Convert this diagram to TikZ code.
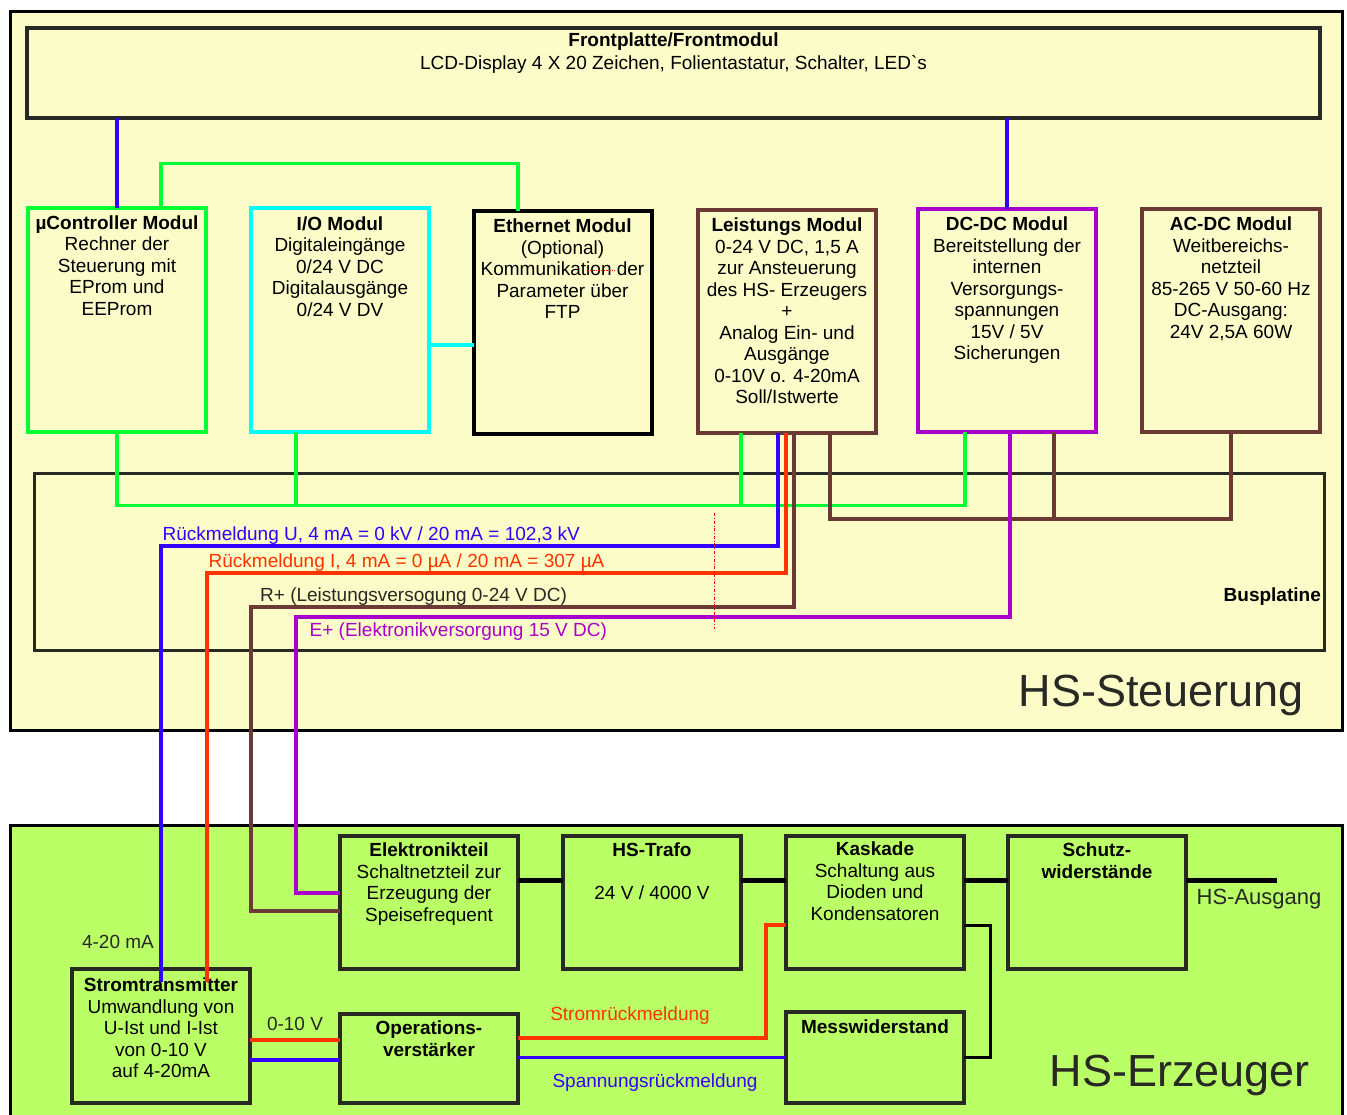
\documentclass[tikz,border=0pt]{standalone}
\usepackage{fontspec}
\setmainfont{Liberation Sans}
\usetikzlibrary{positioning, calc}
\definecolor{hellgelb}{RGB}{252,252,200}
\definecolor{hellgruen}{RGB}{187,255,102}
\definecolor{busgruen}{RGB}{0,255,51}
\definecolor{tuerkis}{RGB}{0,255,255}
\definecolor{braun}{RGB}{108,58,52}
\definecolor{lila}{RGB}{170,0,204}
\definecolor{blau}{RGB}{51,0,255}
\definecolor{orangerot}{RGB}{255,51,0}
\definecolor{dunkel}{RGB}{40,40,36}

\begin{document}
\begin{tikzpicture}[
    x=1pt, y=-1pt,
    font=\fontsize{19}{21.5}\selectfont,
    modul/.style={draw=#1, line width=4pt, outer sep=0pt, inner sep=0pt,
      minimum width=178pt, minimum height=223pt},
    block/.style={draw=dunkel, line width=4pt, outer sep=0pt, inner sep=0pt,
      minimum width=178pt, minimum height=#1},
    txt/.style={align=center, inner sep=0pt},
    lbl/.style={inner sep=1.5pt},
    wire/.style={line width=3.5pt, draw=#1},
    hv/.style={line width=5pt, draw=black},
    titel/.style={font=\fontsize{45}{50}\selectfont, inner sep=0pt, text=dunkel},
  ]
    \useasboundingbox (0,0) rectangle (1347,1115);
    % housings
    \draw[line width=3pt, fill=hellgelb] (10,12) rectangle (1342,730);
    \draw[line width=3pt, fill=hellgruen] (10,825) rectangle (1342,1130);
    \node[titel, anchor=base east] (steuerT) at (1304,706) {HS-Steuerung};
    \node[titel, anchor=base east] (erzeugT) at (1310,1086) {HS-Erzeuger};
    % front panel
    \node[block=90pt, minimum width=1293pt] (front) at (673.5,73) {};
    \node[txt, below=5pt of front.north] (frontT)
      {\textbf{Frontplatte/Frontmodul}\\[1.5pt]LCD-Display 4 X 20 Zeichen, Folientastatur, Schalter, LED\textasciigrave s};
    % bus board
    \node[block=177pt, minimum width=1290pt, line width=3pt] (bus) at (679,561.5) {};
    \node[anchor=east, inner sep=0pt] (busT) at (1321,597) {\textbf{Busplatine}};
    % modules of the control unit
    \node[modul=busgruen] (uc) at (117,320) {};
    \node[txt, below=7pt of uc.north] (ucT)
      {\textbf{µController Modul}\\Rechner der\\Steuerung mit\\EProm und\\EEProm};
    \node[modul=tuerkis] (io) at (340,320) {};
    \node[txt, below=8pt of io.north] (ioT)
      {\textbf{I/O Modul}\\Digitaleingänge\\0/24 V DC\\Digitalausgänge\\0/24 V DV};
    \node[modul=black] (eth) at (562.5,322.5) {};
    \node[txt, below=8pt of eth.north] (ethT)
      {\textbf{Ethernet Modul}\\(Optional)\\Kommunikation der\\Parameter über\\FTP};
    \node[modul=braun] (lm) at (787,321.5) {};
    \node[txt, below=8pt of lm.north] (lmT)
      {\textbf{Leistungs Modul}\\0-24 V DC, 1,5 A\\zur Ansteuerung\\des HS- Erzeugers\\+\\Analog Ein- und\\Ausgänge\\0-10V o. 4-20mA\\Soll/Istwerte};
    \node[modul=lila] (dcdc) at (1007,320.5) {};
    \node[txt, below=8pt of dcdc.north] (dcdcT)
      {\textbf{DC-DC Modul}\\Bereitstellung der\\internen\\Versorgungs-\\spannungen\\15V / 5V\\Sicherungen};
    \node[modul=braun] (acdc) at (1231,320.5) {};
    \node[txt, below=8pt of acdc.north] (acdcT)
      {\textbf{AC-DC Modul}\\Weitbereichs-\\netzteil\\85-265 V 50-60 Hz\\DC-Ausgang:\\24V 2,5A 60W};
    % modules of the generator
    \node[block=133pt] (elek) at (429,902.5) {};
    \node[txt, below=7pt of elek.north] (elekT)
      {\textbf{Elektronikteil}\\Schaltnetzteil zur\\Erzeugung der\\Speisefrequent};
    \node[block=133pt] (trafo) at (652,902.5) {};
    \node[txt, below=7pt of trafo.north] (trafoT)
      {\textbf{HS-Trafo}\\[21.5pt]24 V / 4000 V};
    \node[block=133pt] (kask) at (875,902.5) {};
    \node[txt, below=6pt of kask.north] (kaskT)
      {\textbf{Kaskade}\\Schaltung aus\\Dioden und\\Kondensatoren};
    \node[block=133pt] (schutz) at (1097,902.5) {};
    \node[txt, below=7pt of schutz.north, font=\fontsize{19}{21.5}\selectfont\bfseries] (schutzT)
      {Schutz-\\widerstände};
    \node[block=134pt] (strom) at (161,1036) {};
    \node[txt, below=9pt of strom.north] (stromT)
      {\textbf{Stromtransmitter}\\Umwandlung von\\U-Ist und I-Ist\\von 0-10 V\\auf 4-20mA};
    \node[block=89pt] (opv) at (429,1058.5) {};
    \node[txt, below=7pt of opv.north, font=\fontsize{19}{21.5}\selectfont\bfseries] (opvT)
      {Operations-\\verstärker};
    \node[block=91pt] (mess) at (875,1057.5) {};
    \node[txt, below=8pt of mess.north] (messT) {\textbf{Messwiderstand}};
    % bus rails and taps
    \coordinate (gbus) at (0,505.5);
    \coordinate (bbus) at (0,519);
    \coordinate (ubus) at (0,546);
    \coordinate (ibus) at (0,573);
    \coordinate (rbus) at (0,607);
    \coordinate (ebus) at (0,617);
    \coordinate (ioG) at ($(io.south)+(-44,0)$);
    \coordinate (lmG) at ($(lm.south)+(-46,0)$);
    \coordinate (lmU) at ($(lm.south)+(-9,0)$);
    \coordinate (lmI) at ($(lm.south)+(-1,0)$);
    \coordinate (lmR) at ($(lm.south)+(7,0)$);
    \coordinate (lmB) at ($(lm.south)+(43,0)$);
    \coordinate (dcG) at ($(dcdc.south)+(-42,0)$);
    \coordinate (dcE) at ($(dcdc.south)+(3,0)$);
    \coordinate (dcB) at ($(dcdc.south)+(47,0)$);
    \coordinate (stU) at ($(strom.north)+(0,13)$);
    \coordinate (stI) at ($(strom.north)+(46,13)$);
    \coordinate (elR) at ($(elek.west)+(0,8.5)$);
    \coordinate (elE) at ($(elek.west)+(0,-9.5)$);
    \coordinate (rKnick) at ($(elR)+(-89,0)$);
    \coordinate (eKnick) at ($(elE)+(-44,0)$);
    % front panel links
    \draw[wire=blau] (uc.north) -- (uc.north |- front.south);
    \draw[wire=blau] (dcdc.north) -- (dcdc.north |- front.south);
    \draw[wire=busgruen] ($(uc.north)+(44,0)$) -- ++(0,-45) -| ($(eth.north)+(-44.5,0)$);
    \draw[wire=tuerkis] ($(io.east)+(0,25)$) -- ($(eth.west)+(0,22.5)$);
    % data bus
    \draw[wire=busgruen] (uc.south) |- (gbus -| dcG) -- (dcG);
    \draw[wire=busgruen] (ioG) -- (ioG |- gbus);
    \draw[wire=busgruen] (lmG) -- (lmG |- gbus);
    % 24 V supply
    \draw[wire=braun] (lmB) |- (bbus -| acdc.south) -- (acdc.south);
    \draw[wire=braun] (dcB) -- (dcB |- bbus);
    % feedback and supply lines to the generator
    \draw[wire=blau] (lmU) |- (ubus -| stU) -- (stU);
    \draw[wire=orangerot] (lmI) |- (ibus -| stI) -- (stI);
    \draw[wire=braun] (lmR) |- (rbus -| rKnick) -- (rKnick) -- (elR);
    \draw[wire=lila] (dcE) |- (ebus -| eKnick) -- (eKnick) -- (elE);
    \node[lbl, text=blau, anchor=south west] (rueU) at (ubus -| stU)
      {Rückmeldung U, 4 mA = 0 kV / 20 mA = 102,3 kV};
    \node[lbl, text=orangerot, anchor=south west] (rueI) at (ibus -| stI)
      {Rückmeldung I, 4 mA = 0 µA / 20 mA = 307 µA};
    \node[lbl, text=dunkel, anchor=south west, xshift=7.5pt] (rplusT) at (rbus -| rKnick)
      {R+ (Leistungsversogung 0-24 V DC)};
    \node[lbl, text=lila, anchor=north west, xshift=12pt, yshift=-4pt] (eplusT) at (ebus -| eKnick)
      {E+ (Elektronikversorgung 15 V DC)};
    \draw[red, line width=0.6pt, dash dot] (714,513) -- (714,629);
    \draw[red!80!orange, line width=0.6pt, densely dotted] (588,270) -- (615,270);
    % high voltage chain
    \coordinate (aus) at ($(schutz.east)+(91,-22.5)$);
    \draw[hv] ($(elek.east)+(0,-22.5)$) -- ($(trafo.west)+(0,-22.5)$);
    \draw[hv] ($(trafo.east)+(0,-22.5)$) -- ($(kask.west)+(0,-22.5)$);
    \draw[hv] ($(kask.east)+(0,-22.5)$) -- ($(schutz.west)+(0,-22.5)$);
    \draw[hv] ($(schutz.east)+(0,-22.5)$) -- (aus);
    \node[lbl, text=dunkel, font=\fontsize{22}{26}\selectfont] (ausT) at (1259,899) {HS-Ausgang};
    % measuring
    \draw[wire=black, line width=3pt] ($(kask.east)+(0,22.5)$) -- ++(26,0) |- (mess.east);
    \draw[wire=orangerot] ($(kask.west)+(0,22.5)$) -- ++(-20,0) |- ($(opv.east)+(0,-20.5)$);
    \draw[wire=blau] (mess.west -| opv.east) -- (mess.west);
    \node[lbl, text=orangerot] (stromRT) at (630,1016) {Stromrückmeldung};
    \node[lbl, text=blau] (spannRT) at (655,1083) {Spannungsrückmeldung};
    \draw[wire=orangerot] ($(opv.west)+(0,-18.5)$) coordinate (o1) -- (o1 -| strom.east);
    \draw[wire=blau] ($(opv.west)+(0,1.5)$) coordinate (b1) -- (b1 -| strom.east);
    \node[lbl, text=dunkel] (zehnV) at (295,1024) {0-10 V};
    \node[lbl, text=dunkel] (vierzwanzig) at (118,942) {4-20 mA};
\end{tikzpicture}
\end{document}
